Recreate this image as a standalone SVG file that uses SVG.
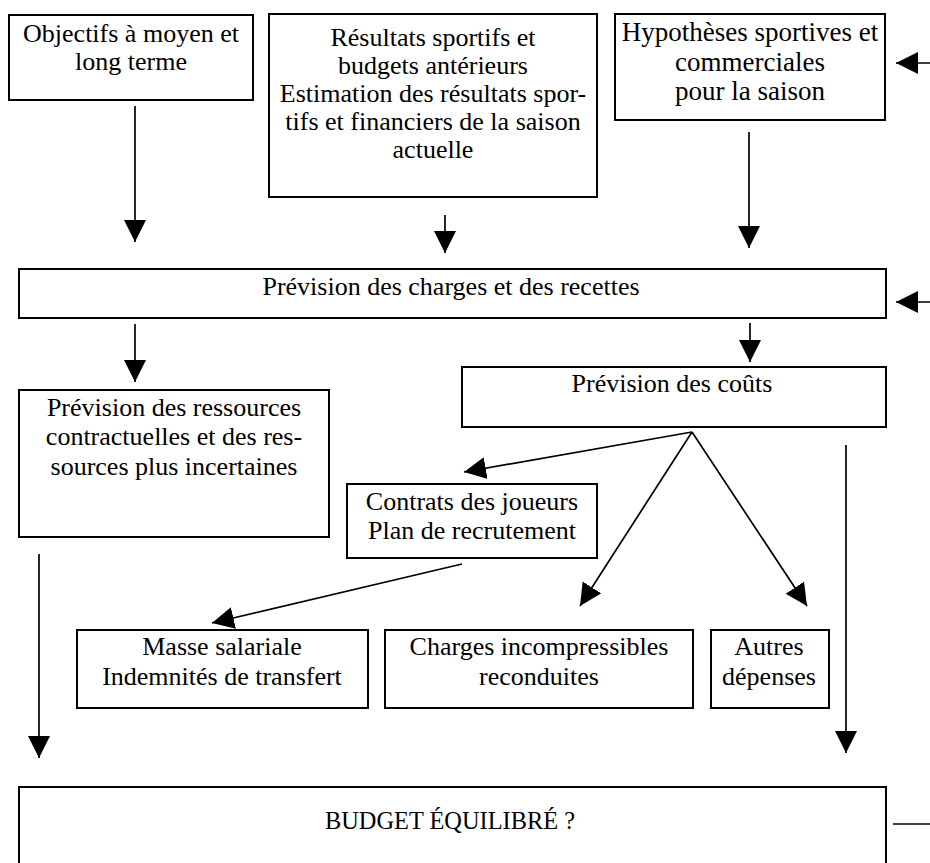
<svg xmlns="http://www.w3.org/2000/svg" width="930" height="863" viewBox="0 0 930 863">
<style>
  .box { fill: #ffffff; stroke: #000000; stroke-width: 2; }
  .t { font-family: "Liberation Serif", "Times New Roman", serif; font-size: 26px; fill: #000000; text-anchor: middle; }
  .c { stroke: #000000; stroke-width: 1.7; fill: none; marker-end: url(#ah); }
  .p { stroke: #000000; stroke-width: 1.7; fill: none; }
</style>
<defs>
  <marker id="ah" markerUnits="userSpaceOnUse" markerWidth="23" markerHeight="23" refX="22" refY="11" orient="auto" viewBox="0 0 23 23">
    <path d="M0,0 L22,11 L0,22 Z" fill="#000000"/>
  </marker>
</defs>
<rect width="930" height="863" fill="#ffffff"/>

<g id="objectifs">
  <rect class="box" x="9" y="15" width="244" height="85"/>
  <text class="t" x="131" y="42">Objectifs à moyen et</text>
  <text class="t" x="131" y="70">long terme</text>
</g>

<g id="resultats">
  <rect class="box" x="269" y="14" width="328" height="183"/>
  <text class="t" x="433" y="46">Résultats sportifs et</text>
  <text class="t" x="433" y="74">budgets antérieurs</text>
  <text class="t" x="433" y="102">Estimation des résultats spor-</text>
  <text class="t" x="433" y="130">tifs et financiers de la saison</text>
  <text class="t" x="433" y="158">actuelle</text>
</g>

<g id="hypotheses">
  <rect class="box" x="615" y="14" width="270" height="106"/>
  <text class="t" x="750" y="41" style="font-size:27px">Hypothèses sportives et</text>
  <text class="t" x="750" y="71" style="font-size:27px">commerciales</text>
  <text class="t" x="750" y="100" style="font-size:27px">pour la saison</text>
</g>

<g id="prevision-charges">
  <rect class="box" x="19" y="269" width="867" height="49"/>
  <text class="t" x="451" y="295">Prévision des charges et des recettes</text>
</g>

<g id="prevision-ressources">
  <rect class="box" x="19" y="390" width="310" height="147"/>
  <text class="t" x="174" y="416">Prévision des ressources</text>
  <text class="t" x="174" y="445">contractuelles et des res-</text>
  <text class="t" x="174" y="475">sources plus incertaines</text>
</g>

<g id="prevision-couts">
  <rect class="box" x="462" y="367" width="424" height="60"/>
  <text class="t" x="672" y="392">Prévision des coûts</text>
</g>

<g id="contrats">
  <rect class="box" x="347" y="484" width="250" height="74"/>
  <text class="t" x="472" y="510">Contrats des joueurs</text>
  <text class="t" x="472" y="539">Plan de recrutement</text>
</g>

<g id="masse">
  <rect class="box" x="77" y="630" width="291" height="78"/>
  <text class="t" x="222" y="655">Masse salariale</text>
  <text class="t" x="222" y="685">Indemnités de transfert</text>
</g>

<g id="charges-incompressibles">
  <rect class="box" x="385" y="630" width="308" height="78"/>
  <text class="t" x="539" y="655">Charges incompressibles</text>
  <text class="t" x="539" y="685">reconduites</text>
</g>

<g id="autres">
  <rect class="box" x="711" y="630" width="118" height="78"/>
  <text class="t" x="769" y="655">Autres</text>
  <text class="t" x="769" y="685">dépenses</text>
</g>

<g id="budget">
  <rect class="box" x="19" y="787" width="867" height="100"/>
  <text class="t" x="450" y="829" textLength="250" lengthAdjust="spacingAndGlyphs">BUDGET ÉQUILIBRÉ ?</text>
</g>

<g id="connectors">
  <line class="c" x1="135" y1="106" x2="135" y2="242"/>
  <line class="c" x1="445" y1="215" x2="445" y2="253"/>
  <line class="c" x1="749" y1="132" x2="749" y2="248"/>
  <line class="c" x1="930" y1="63" x2="896" y2="63"/>
  <line class="c" x1="930" y1="302" x2="896" y2="302"/>
  <line class="c" x1="135" y1="324" x2="135" y2="382"/>
  <line class="c" x1="750" y1="323" x2="750" y2="362"/>
  <line class="c" x1="692" y1="432" x2="464" y2="472"/>
  <line class="c" x1="692" y1="432" x2="580" y2="606"/>
  <line class="c" x1="692" y1="432" x2="807" y2="606"/>
  <line class="c" x1="462" y1="564" x2="212" y2="623"/>
  <line class="c" x1="39" y1="554" x2="39" y2="758"/>
  <line class="c" x1="846" y1="445" x2="846" y2="753"/>
  <line class="p" x1="893" y1="824" x2="930" y2="824"/>
</g>
</svg>
